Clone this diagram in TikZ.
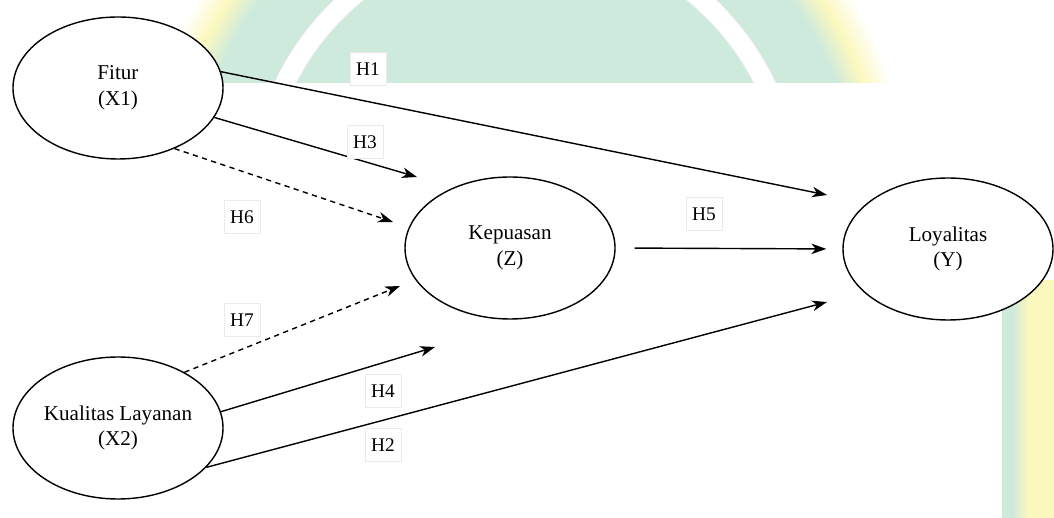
\documentclass[tikz,border=0pt]{standalone}
\usepackage{fontspec}
\setmainfont{Liberation Serif}
\usetikzlibrary{shapes.geometric,arrows.meta}

\definecolor{wmgreen}{RGB}{205,234,221}
\definecolor{wmyellow}{RGB}{251,248,190}

% 水印圆盘: 绿 -> 黄 -> 白
\pgfdeclareradialshading{wmdisc}{\pgfpoint{0bp}{0bp}}{%
  color(0bp)=(wmgreen); color(21.5bp)=(wmgreen);
  color(23.2bp)=(wmyellow); color(25bp)=(white); color(50bp)=(white)}

\tikzset{
  var/.style={ellipse, draw, fill=white, thick, minimum width=4.2cm,
    minimum height=2.84cm, inner sep=0pt, align=center,
    font=\fontsize{12}{14.7}\selectfont},
  hyp/.style={draw=black!8, fill=white, minimum width=0.72cm,
    minimum height=0.66cm, inner sep=0pt, font=\fontsize{11}{13}\selectfont},
  arr/.style={thick, -{Stealth[length=8.5pt,width=6pt,inset=2.5pt]}},
  dsh/.style={dash pattern=on 3pt off 2.5pt},
}

\begin{document}
\begin{tikzpicture}[x=0.2mm, y=-0.2mm]
  \useasboundingbox (0,0) rectangle (1054,518);

  % 背景水印 (上方圆环)
  \begin{scope}
    \clip (0,0) rectangle (1054,83);
    \shade[shading=wmdisc] (525,200) circle[radius=385];
    \draw[white, line width=4mm] (525,200) circle[radius=267];
    \draw[black!10, line width=0.4pt] (525,200) circle[radius=277];
    \draw[black!6, line width=0.4pt] (525,200) circle[radius=257];
  \end{scope}
  % 右侧色带
  \fill[wmgreen] (1002,280) rectangle (1013,518);
  \shade[left color=wmgreen, right color=wmyellow] (1012,280) rectangle (1028,518);
  \fill[wmyellow] (1027,280) rectangle (1054,518);

  % 变量
  \node[var] (fitur) at (118,88) {Fitur\\(X1)};
  \node[var] (kualitas) at (118,428) {Kualitas Layanan\\(X2)};
  \node[var] (kepuasan) at (510,248) {Kepuasan\\(Z)};
  \node[var] (loyalitas) at (948,249) {Loyalitas\\(Y)};

  % 箭头终点
  \coordinate (h1t) at (827,195);
  \coordinate (h3t) at (417,177);
  \coordinate (h6t) at (393,222);
  \coordinate (h7t) at (400,286);
  \coordinate (h4t) at (435,347);
  \coordinate (h2t) at (827,302);

  \draw[arr] (fitur.9) -- (h1t);
  \draw[arr] (fitur.-17) -- (h3t);
  \draw[arr, dsh] (fitur.-47) -- (h6t);
  \draw[arr, dsh] (kualitas.40) -- (h7t);
  \draw[arr] (kualitas.9) -- (h4t);
  \draw[arr] (kualitas.-24) -- (h2t);
  \draw[arr, shorten <=3.8mm, shorten >=3.2mm] (kepuasan.east) -- (loyalitas.west);

  % 假设标签
  \node[hyp] (lh1) at (368,69) {H1};
  \node[hyp] (lh3) at (365,142) {H3};
  \node[hyp] (lh6) at (242,217) {H6};
  \node[hyp] (lh5) at (704,214) {H5};
  \node[hyp] (lh7) at (242,320) {H7};
  \node[hyp] (lh4) at (383,391) {H4};
  \node[hyp] (lh2) at (383,445) {H2};
\end{tikzpicture}
\end{document}
